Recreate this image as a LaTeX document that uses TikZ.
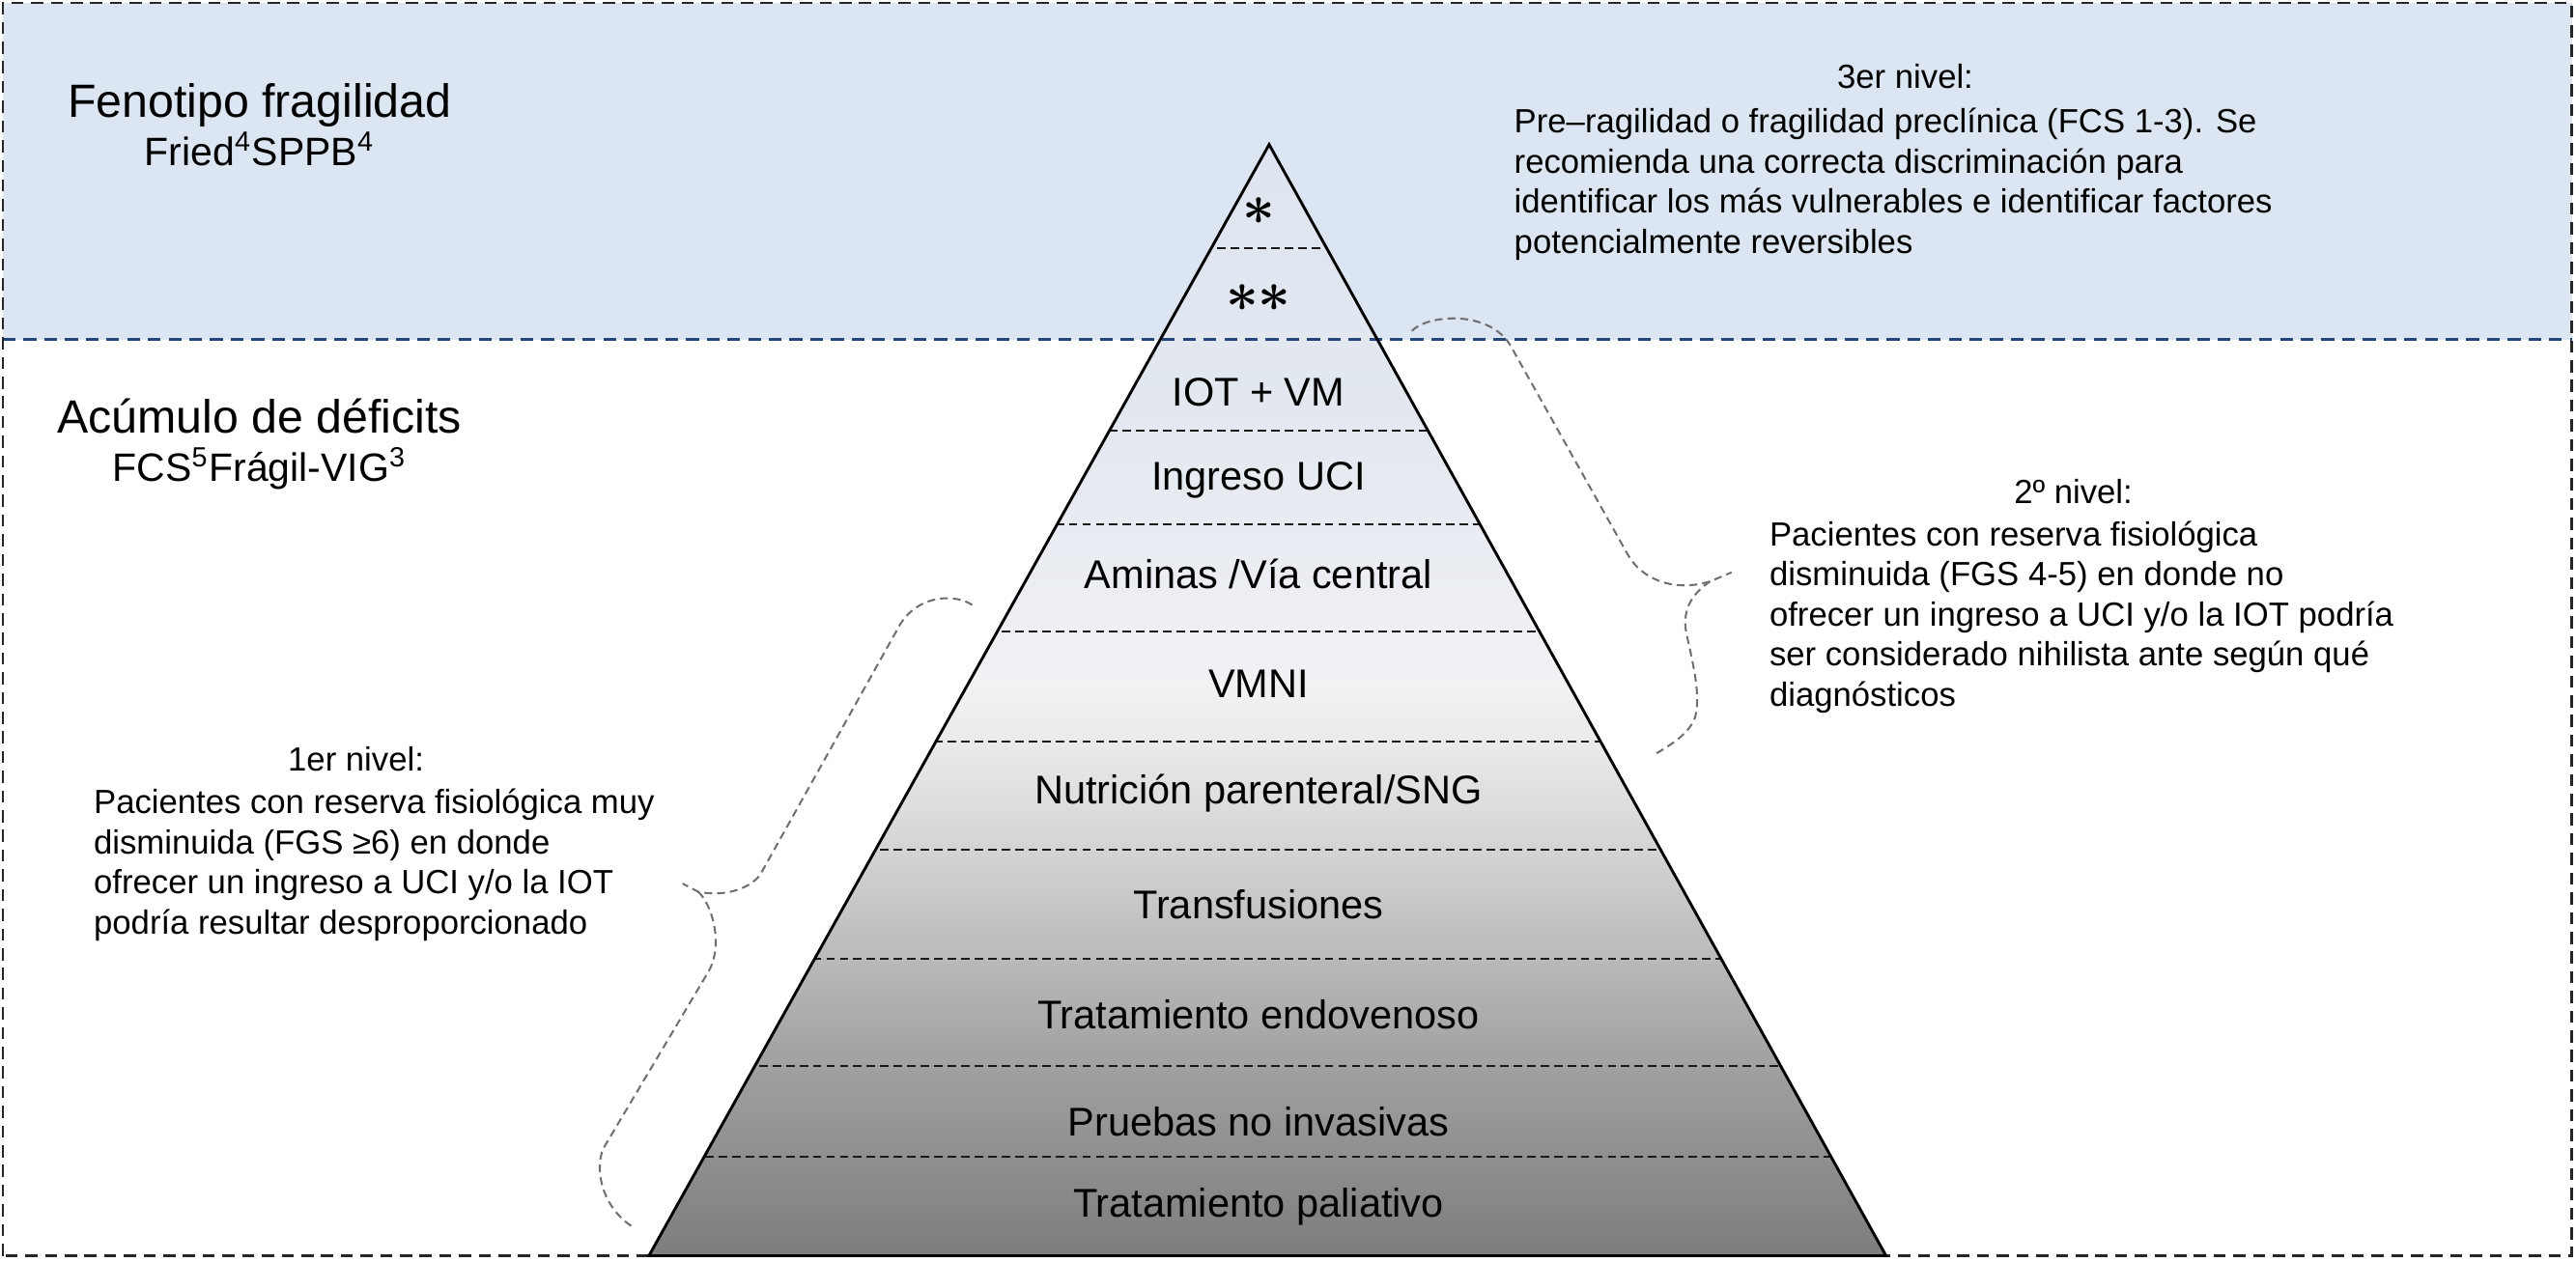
\documentclass[tikz,border=0pt]{standalone}
\usepackage{fontspec}
\setmainfont{Liberation Sans}
\usepackage{tikz}
\usetikzlibrary{positioning}
\definecolor{bandblue}{RGB}{220,230,242}
\definecolor{bandline}{RGB}{36,70,122}
\definecolor{bracegray}{RGB}{112,112,112}
\definecolor{pyrtop}{RGB}{222,229,240}
\definecolor{pyrupper}{RGB}{227,232,240}
\definecolor{pyrmid}{RGB}{233,236,242}
\definecolor{pyrlight}{RGB}{241,242,244}
\definecolor{pyrgrayA}{RGB}{234,234,234}
\definecolor{pyrgrayB}{RGB}{212,212,212}
\definecolor{pyrgrayC}{RGB}{185,185,185}
\definecolor{pyrgrayD}{RGB}{160,160,160}
\definecolor{pyrgrayE}{RGB}{143,143,143}
\definecolor{pyrbase}{RGB}{125,125,125}
\pgfdeclareverticalshading{pyramidfade}{100bp}{%
  color(0bp)=(pyrbase); color(25bp)=(pyrbase);
  color(29.4bp)=(pyrgrayE); color(33.5bp)=(pyrgrayD);
  color(38.3bp)=(pyrgrayC); color(43.3bp)=(pyrgrayB);
  color(48.1bp)=(pyrgrayA); color(50.5bp)=(pyrlight);
  color(57.1bp)=(pyrmid); color(63bp)=(pyrupper);
  color(75bp)=(pyrtop); color(100bp)=(pyrtop)}
\tikzset{
  frameline/.style={draw=black!85,line width=0.8pt,dash pattern=on 3.7pt off 2.3pt},
  bandrule/.style={draw=bandline,line width=0.9pt,dash pattern=on 3.9pt off 2.4pt},
  pyroutline/.style={draw=black,line width=0.85pt,line join=miter},
  layerline/.style={draw=black!90,line width=0.6pt,dash pattern=on 2.6pt off 1.5pt},
  bracket/.style={draw=bracegray,line width=0.6pt,dash pattern=on 2.4pt off 1.5pt},
  headtext/.style={font=\fontsize{14.2}{17}\selectfont,anchor=base,inner sep=0pt},
  subtext/.style={font=\fontsize{12.05}{14.5}\selectfont,anchor=base,inner sep=0pt},
  layerlabel/.style={font=\fontsize{12.2}{14.5}\selectfont,anchor=base,inner sep=0pt},
  starlabel/.style={font=\fontsize{16}{16}\selectfont\boldmath,inner sep=0pt},
  notetext/.style={font=\fontsize{10.2}{12.2}\selectfont,inner sep=0pt}
}

\begin{document}
\begin{tikzpicture}[x=0.5pt,y=0.5pt]
  \useasboundingbox (0,0) rectangle (1568,768);
  \fill[bandblue] (1.8,561.2) rectangle (1565.4,766.2);
  \coordinate (apex) at (772.5,680);
  \coordinate (baseL) at (395,3.4);
  \coordinate (baseR) at (1148,3.4);
  \shade[shading=pyramidfade] (baseL) -- (apex) -- (baseR) -- cycle;
  \begin{scope}
    \clip (baseL) -- (apex) -- (baseR) -- cycle;
    \draw[layerline] (380,617.1) -- (1160,617.1);
    \draw[layerline] (380,506) -- (1160,506);
    \draw[layerline] (380,448.6) -- (1160,448.6);
    \draw[layerline] (380,383.3) -- (1160,383.3);
    \draw[layerline] (380,316.3) -- (1160,316.3);
    \draw[layerline] (380,250.6) -- (1160,250.6);
    \draw[layerline] (380,184) -- (1160,184);
    \draw[layerline] (380,118.9) -- (1160,118.9);
    \draw[layerline] (380,63.5) -- (1160,63.5);
  \end{scope}
  \draw[bandrule] (1.8,561.2) -- (1565.4,561.2);
  \draw[frameline] (1.8,3.3) rectangle (1565.4,766.2);
  \draw[pyroutline] (baseL) -- (apex) -- (baseR) -- cycle;

  \coordinate (tip2) at (1041,414);
  \coordinate (tip1) at (425,225);
  \draw[bracket] (859.4,566.5) .. controls (868,576) and (905,580) .. (919,558.3)
    -- (991,430) .. controls (999,416) and (1018,407) .. (tip2) -- (1054,419.5);
  \draw[bracket] (tip2) .. controls (1026,404) and (1024,392) .. (1027,380)
    .. controls (1031,362) and (1035,345) .. (1032,332)
    .. controls (1029,322) and (1018,315) .. (1007,308.5);
  \draw[bracket] (591.8,399.6) .. controls (583,406) and (560,407) .. (548,388)
    -- (462.5,235) .. controls (455,226) and (440,222) .. (tip1) -- (415.5,230);
  \draw[bracket] (tip1) .. controls (433,218) and (441,193) .. (431,176)
    -- (368,70) .. controls (362,60) and (364,34) .. (386,20.4);

  \node[headtext] (fenotipo) at (158,696.5) {Fenotipo fragilidad};
  \node[subtext] (friedsppb) at (158,667) {Fried\textsuperscript{4}SPPB\textsuperscript{4}};
  \node[headtext] (acumulo) at (158,504.5) {Acúmulo de déficits};
  \node[subtext] (fcsvig) at (158,475) {FCS\textsuperscript{5}Frágil-VIG\textsuperscript{3}};

  \node[starlabel] (star1) at (766,639.2) {$\ast$};
  \node[starlabel] (star2) at (766,586.3) {$\ast\ast$};
  \node[layerlabel] (iotvm) at (766,520.7) {IOT + VM};
  \node[layerlabel] (ingresouci) at (766,469.7) {Ingreso UCI};
  \node[layerlabel] (aminas) at (766,409.8) {Aminas /Vía central};
  \node[layerlabel] (vmni) at (766,343.1) {VMNI};
  \node[layerlabel] (nutricion) at (766,278.4) {Nutrición parenteral/SNG};
  \node[layerlabel] (transfusiones) at (766,208.5) {Transfusiones};
  \node[layerlabel] (endovenoso) at (766,141.5) {Tratamiento endovenoso};
  \node[layerlabel] (pruebas) at (766,76.6) {Pruebas no invasivas};
  \node[layerlabel] (paliativo) at (766,27.2) {Tratamiento paliativo};

  \node[notetext,anchor=base] (nivel3title) at (1159.7,714.1) {3er nivel:};
  \node[notetext,anchor=base west,align=left] (nivel3text) at (921.3,613.9)
    {Pre–ragilidad o fragilidad preclínica (FCS 1-3). Se\\
     recomienda una correcta discriminación para\\
     identificar los más vulnerables e identificar factores\\
     potencialmente reversibles};
  \node[notetext,anchor=base] (nivel2title) at (1262,461.3) {2º nivel:};
  \node[notetext,anchor=base west,align=left] (nivel2text) at (1076.7,338.2)
    {Pacientes con reserva fisiológica\\
     disminuida (FGS 4-5) en donde no\\
     ofrecer un ingreso a UCI y/o la IOT podría\\
     ser considerado nihilista ante según qué\\
     diagnósticos};
  \node[notetext,anchor=base] (nivel1title) at (216.7,298.5) {1er nivel:};
  \node[notetext,anchor=base west,align=left] (nivel1text) at (56.7,199.3)
    {Pacientes con reserva fisiológica muy\\
     disminuida (FGS ≥6) en donde\\
     ofrecer un ingreso a UCI y/o la IOT\\
     podría resultar desproporcionado};
\end{tikzpicture}
\end{document}
